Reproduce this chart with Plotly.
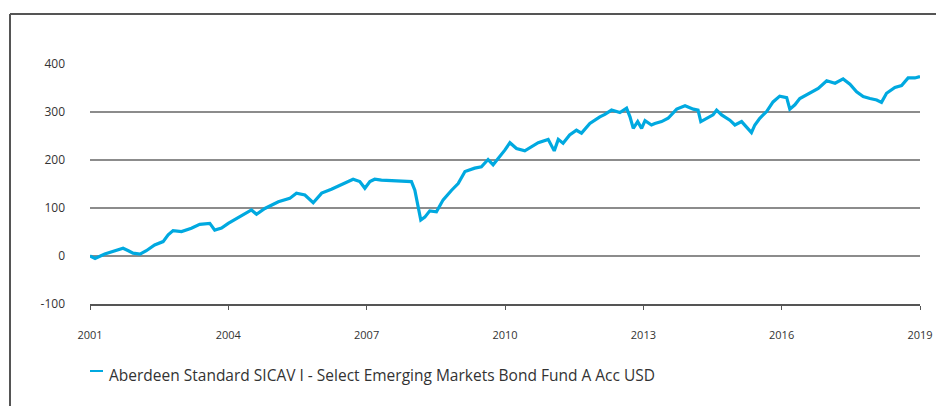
import plotly.graph_objects as go

series_name = "Aberdeen Standard SICAV I - Select Emerging Markets Bond Fund A Acc USD"

dates = [
    "2001-01-01", "2001-02-10", "2001-04-28", "2001-07-15", "2001-09-20", "2001-11-01", "2001-12-08",
    "2002-02-01", "2002-03-23", "2002-05-28", "2002-08-03", "2002-09-12", "2002-10-21", "2002-12-27",
    "2003-03-15", "2003-05-20", "2003-08-08", "2003-09-16", "2003-11-09",
    "2004-01-01", "2004-02-23", "2004-05-11", "2004-07-03", "2004-08-12", "2004-10-17",
    "2005-02-01", "2005-05-02", "2005-06-24", "2005-08-30", "2005-11-04",
    "2006-01-10", "2006-03-28", "2006-06-15", "2006-09-16", "2006-11-08", "2006-12-18",
    "2007-01-27", "2007-03-06", "2007-04-28", "2007-08-12", "2007-10-30", "2007-12-22",
    "2008-01-18", "2008-02-14", "2008-03-05", "2008-04-06", "2008-05-15", "2008-07-07", "2008-08-29",
    "2008-11-04", "2008-12-26",
    "2009-02-18", "2009-05-06", "2009-06-28", "2009-08-20", "2009-09-29", "2009-11-08",
    "2010-01-01", "2010-02-09", "2010-04-02", "2010-06-07", "2010-09-21", "2010-12-09",
    "2011-01-26", "2011-02-27", "2011-04-06", "2011-05-28", "2011-07-21", "2011-08-30", "2011-11-04",
    "2012-01-22", "2012-03-02", "2012-04-24", "2012-06-29", "2012-08-21", "2012-09-17", "2012-10-13",
    "2012-11-17", "2012-12-18",
    "2013-01-14", "2013-03-06", "2013-04-02", "2013-05-25", "2013-07-16", "2013-09-22", "2013-11-27",
    "2014-02-01", "2014-03-10", "2014-04-01", "2014-05-16", "2014-07-07", "2014-08-04", "2014-09-13",
    "2014-11-17", "2014-12-27",
    "2015-02-18", "2015-03-28", "2015-05-07", "2015-06-03", "2015-07-12", "2015-09-04", "2015-10-25",
    "2015-12-17",
    "2016-02-10", "2016-03-06", "2016-04-15", "2016-05-24", "2016-08-12", "2016-10-17", "2016-12-23",
    "2017-02-27", "2017-05-02", "2017-06-25", "2017-08-17", "2017-10-08", "2017-12-01",
    "2018-01-23", "2018-03-02", "2018-04-11", "2018-06-16", "2018-08-08", "2018-09-29", "2018-11-21",
    "2019-01-01",
]

values = [
    0, -5, 4, 11, 16, 11, 6,
    4, 11, 23, 30, 44, 53, 51,
    58, 66, 68, 54, 58,
    68, 76, 87, 96, 87, 99,
    113, 120, 131, 127, 111,
    131, 139, 148, 160, 155, 141,
    155, 160, 158, 157, 157, 155,
    137, 96, 75, 81, 94, 92, 117,
    137, 151,
    176, 183, 186, 201, 190, 203,
    221, 236, 224, 219, 236, 243,
    219, 243, 235, 252, 262, 256, 276,
    290, 295, 304, 299, 308, 290, 266,
    280, 266,
    282, 273, 276, 280, 287, 306, 313,
    306, 304, 280, 287, 294, 304, 294,
    283, 273,
    280, 269, 257, 273, 287, 301, 321,
    333,
    330, 306, 315, 328, 339, 349, 365,
    360, 369, 358, 342, 332, 328,
    325, 320, 339, 351, 355, 371, 371,
    374,
]

x_ticks = ["2001-01-01", "2004-01-01", "2007-01-01", "2010-01-01", "2013-01-01", "2016-01-01", "2019-01-01"]
x_tick_labels = ["2001", "2004", "2007", "2010", "2013", "2016", "2019"]
y_ticks = [-100, 0, 100, 200, 300, 400]
y_tick_labels = ["-100", "0", "100", "200", "300", "400"]

LINE = "#00a9e0"
FONT = "Open Sans"
OFF = 8  # page body margin
W, H = 944, 398
L, R, T, B = 82, 32, 56, 102
PW, PH = W - L - R, H - T - B


def px(x):
    return (x - OFF - L) / PW


def py(y):
    return (H - B - (y - OFF)) / PH


fig = go.Figure()
fig.add_trace(go.Scatter(
    x=dates, y=values, mode="lines", name=series_name,
    line=dict(color=LINE, width=3.2), showlegend=False,
))

fig.update_layout(
    width=W, height=H,
    margin=dict(l=L, r=R, t=T, b=B, autoexpand=False),
    paper_bgcolor="white", plot_bgcolor="white",
    font=dict(family=FONT, color="#333333"),
    xaxis=dict(
        range=[x_ticks[0], x_ticks[-1]], automargin=False,
        tickmode="array", tickvals=x_ticks, ticktext=x_tick_labels,
        showgrid=False, zeroline=False,
        showline=True, linecolor="#555555", linewidth=2,
        ticks="outside", ticklen=4, tickwidth=1, tickcolor="#555555",
        tickfont=dict(size=11, color="#333333"),
        ticklabelstandoff=16,
    ),
    yaxis=dict(
        range=[-100, 400], automargin=False,
        tickmode="array", tickvals=y_ticks, ticktext=y_tick_labels,
        showgrid=True, gridcolor="#8c8c8c", gridwidth=1.5,
        zeroline=False, showline=False,
        ticks="", tickfont=dict(size=12, color="#333333"),
        ticklabelstandoff=24,
    ),
    shapes=[
        # outer frame: left and top edges (right and bottom lie outside the view)
        dict(type="line", xref="paper", yref="paper",
             x0=px(10), x1=px(10), y0=py(430), y1=py(14),
             line=dict(color="#555555", width=2), layer="below"),
        dict(type="line", xref="paper", yref="paper",
             x0=px(10), x1=px(990), y0=py(14), y1=py(14),
             line=dict(color="#555555", width=2), layer="below"),
        dict(type="line", xref="paper", yref="paper",
             x0=px(90), x1=px(103), y0=py(371), y1=py(371),
             line=dict(color=LINE, width=2)),
    ],
    annotations=[
        dict(text=series_name, xref="paper", yref="paper", x=px(107), y=py(375),
             xanchor="left", yanchor="middle", showarrow=False,
             font=dict(size=15.5, color="#333333", family=FONT)),
        dict(text="(%)", xref="paper", yref="paper", x=px(149), y=py(5),
             xanchor="left", yanchor="bottom", showarrow=False,
             font=dict(size=22, color=LINE, family=FONT)),
    ],
)

fig.write_html("out.html")
